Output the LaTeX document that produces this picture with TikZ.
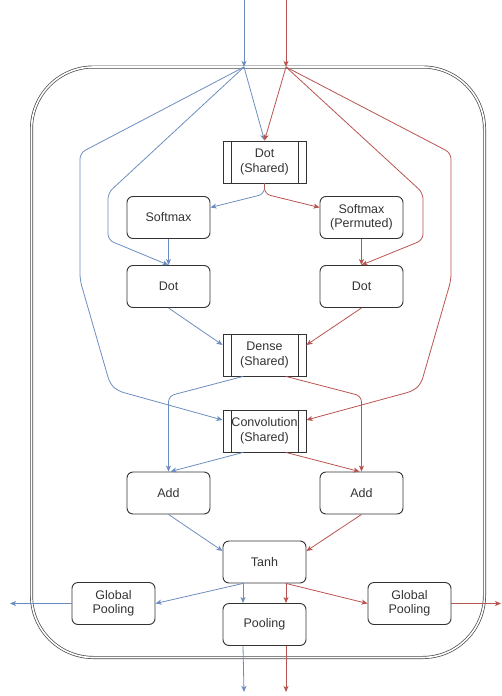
\documentclass[tikz,border=0pt]{standalone}
\usepackage{fontspec}
\setmainfont{Liberation Sans}
\usetikzlibrary{arrows.meta}
\definecolor{bl}{HTML}{6C8EBF}
\definecolor{rd}{HTML}{B85450}
\definecolor{stk}{HTML}{333333}
\begin{document}
\begin{tikzpicture}[x=1pt,y=-1pt,
  box/.style={draw=stk, line width=0.9pt, rounded corners=6pt, minimum width=83pt, minimum height=42pt, align=center, font=\fontsize{12.5}{14.5}\selectfont, text=stk, inner sep=1pt},
  shared/.style={draw=stk, line width=0.9pt, minimum width=83pt, minimum height=42pt, align=center, font=\fontsize{12.5}{14.5}\selectfont, text=stk, inner sep=1pt,
    path picture={\draw[stk, line width=0.9pt] ([xshift=8pt]path picture bounding box.north west) -- ([xshift=8pt]path picture bounding box.south west);
                  \draw[stk, line width=0.9pt] ([xshift=-8pt]path picture bounding box.north east) -- ([xshift=-8pt]path picture bounding box.south east);}},
  conn/.style={line width=0.8pt, rounded corners=6pt, -{Stealth[length=6pt,width=5pt,inset=1.5pt]}},
  cb/.style={conn, draw=bl},
  cr/.style={conn, draw=rd}]
\useasboundingbox (0,0) rectangle (501,696);
% frame
\draw[draw=stk!90, line width=0.7pt, double=white, double distance=1.6pt, rounded corners=62pt] (31.5,67) rectangle (484.5,657.5);
% nodes
\node[shared] (dotS) at (264.5,162) {Dot\\(Shared)};
\node[box] (sm) at (168.5,217.5) {Softmax};
\node[box] (smp) at (361.5,217.5) {Softmax\\(Permuted)};
\node[box] (dotL) at (168.5,286.5) {Dot};
\node[box] (dotR) at (361.5,286.5) {Dot};
\node[shared] (dense) at (264.5,355) {Dense\\(Shared)};
\node[shared] (conv) at (264.5,431) {Convolution\\(Shared)};
\node[box] (addL) at (168.5,493) {Add};
\node[box] (addR) at (361.5,493) {Add};
\node[box] (tanh) at (264.5,562) {Tanh};
\node[box] (gpL) at (113.5,603.5) {Global\\Pooling};
\node[box] (gpR) at (409.5,603.5) {Global\\Pooling};
\node[box] (pool) at (264.5,624.5) {Pooling};
% coordinates
\coordinate (inB) at (244,0);
\coordinate (inR) at (286,0);
\coordinate (jB) at (244,67);
\coordinate (jR) at (286,67);
\coordinate (outL) at (10,603.5);
\coordinate (outR) at (501,603.5);
\coordinate (botB) at (244,692);
\coordinate (botR) at (286,692);
% inputs
\draw[cb] (inB) -- (jB);
\draw[cr] (inR) -- (jR);
\draw[cb] (jB) -- (dotS.north);
\draw[cr] (jR) -- (dotS.north);
% long side paths
\draw[cb] (jB) -- (80,153) -- (80,280) -- (110,384) -- (118,391) -- ([yshift=11pt]conv.west);
\draw[cr] (jR) -- (451,153) -- (451,280) -- (421,384) -- (413,391) -- ([yshift=11pt]conv.east);
\draw[cb] (jB) -- (108,193) -- (108,240) -- (dotL.north);
\draw[cr] (jR) -- (423,193) -- (423,240) -- (dotR.north);
% dot shared to softmax
\draw[cb] (dotS.south) -- (264.5,194) -- ([yshift=10pt]sm.east);
\draw[cr] (dotS.south) -- (264.5,194) -- ([yshift=10pt]smp.west);
\draw[cb] (sm.south) -- (dotL.north);
\draw[cr] (smp.south) -- (dotR.north);
% dot to dense
\draw[cb] (dotL.south) -- ([yshift=10pt]dense.west);
\draw[cr] (dotR.south) -- ([yshift=10pt]dense.east);
% dense to add
\draw[cb] ([xshift=-21.5pt]dense.south) -- (168.5,396) -- (addL.north);
\draw[cr] ([xshift=21.5pt]dense.south) -- (361.5,396) -- (addR.north);
% conv to add
\draw[cb] ([xshift=-21.5pt]conv.south) -- ([xshift=2pt]addL.north);
\draw[cr] ([xshift=21.5pt]conv.south) -- ([xshift=-2pt]addR.north);
% add to tanh
\draw[cb] (addL.south) -- ([yshift=11pt]tanh.west);
\draw[cr] (addR.south) -- ([yshift=11pt]tanh.east);
% tanh outputs
\draw[cb] ([xshift=-21.5pt]tanh.south) -- (gpL.east);
\draw[cr] ([xshift=21.5pt]tanh.south) -- (gpR.west);
\draw[cb] ([xshift=-21.5pt]tanh.south) -- ([xshift=-21.5pt]pool.north);
\draw[cr] ([xshift=21.5pt]tanh.south) -- ([xshift=21.5pt]pool.north);
% outputs
\draw[cb] (gpL.west) -- (outL);
\draw[cr] (gpR.east) -- (outR);
\draw[cb] ([xshift=-21.5pt]pool.south) -- (botB);
\draw[cr] ([xshift=21.5pt]pool.south) -- (botR);
\end{tikzpicture}
\end{document}
